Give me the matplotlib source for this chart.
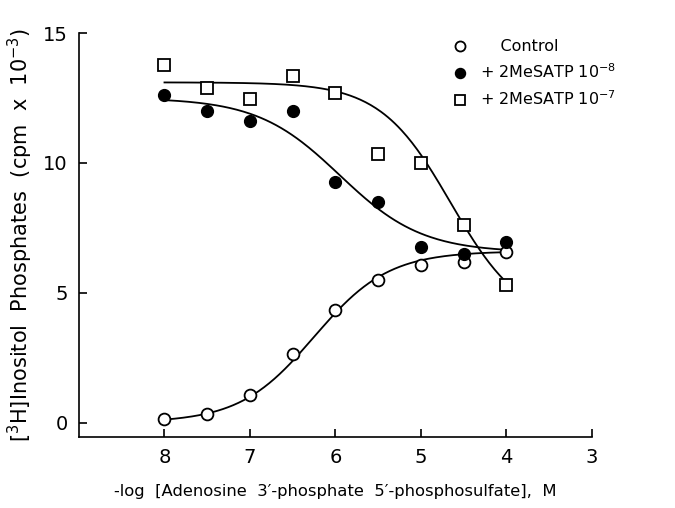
import numpy as np
import matplotlib
matplotlib.use("Agg")
import matplotlib.pyplot as plt

# -log[A3P5PS], M
x_conc = [8, 7.5, 7, 6.5, 6, 5.5, 5, 4.5, 4]
control = [0.15, 0.35, 1.05, 2.65, 4.35, 5.5, 6.05, 6.2, 6.55]
mesatp_8 = [12.6, 12.0, 11.6, 12.0, 9.25, 8.5, 6.75, 6.5, 6.95]
mesatp_7 = [13.75, 12.9, 12.45, 13.35, 12.7, 10.35, 10.0, 7.6, 5.3]

# fitted logistic parameters: (bottom, top, midpoint -log, hill, direction)
fit_control = (0.0, 6.6, 6.25, 1.0, +1)
fit_m8 = (6.55, 12.5, 5.95, 0.9, -1)
fit_m7 = (3.8, 13.1, 4.65, 1.05, -1)

labels = ["Control", "+ 2MeSATP $10^{-8}$", "+ 2MeSATP $10^{-7}$"]

def logistic(xs, p):
    bottom, top, mid, h, d = p
    logc = -xs
    if d > 0:
        return bottom + (top - bottom) / (1 + 10 ** ((-mid - logc) * h))
    return bottom + (top - bottom) / (1 + 10 ** ((logc + mid) * h))

fig = plt.figure(figsize=(6.75, 5.08), dpi=100)
ax = fig.add_axes([0.117, 0.140, 0.760, 0.795])

xs = np.linspace(min(x_conc), max(x_conc), 200)
lw = 1.3
ax.plot(xs, logistic(xs, fit_control), color="black", lw=lw)
ax.plot(xs, logistic(xs, fit_m8), color="black", lw=lw)
ax.plot(xs, logistic(xs, fit_m7), color="black", lw=lw)

ms = 8.5
h1, = ax.plot(x_conc, control, "o", ms=ms, mfc="white", mec="black", mew=1.3, ls="none")
h2, = ax.plot(x_conc, mesatp_8, "o", ms=ms, mfc="black", mec="black", ls="none")
h3, = ax.plot(x_conc, mesatp_7, "s", ms=ms, mfc="white", mec="black", mew=1.3, ls="none")

ax.set_xlim(9, 3)
ax.set_ylim(-0.55, 15)
ax.set_xticks([8, 7, 6, 5, 4, 3])
ax.set_yticks([0, 5, 10, 15])
ax.spines["top"].set_visible(False)
ax.spines["right"].set_visible(False)
ax.spines["left"].set_bounds(-0.55, 15)
for s in ("left", "bottom"):
    ax.spines[s].set_linewidth(1.2)
ax.tick_params(direction="in", length=6, width=1.2, labelsize=14, pad=8)

ax.set_xlabel("-log  [Adenosine  3′-phosphate  5′-phosphosulfate],  M", fontsize=11.8, labelpad=12)
ax.set_ylabel("[$^{3}$H]Inositol  Phosphates  (cpm  x  10$^{-3}$)", fontsize=15, labelpad=6)

leg = ax.legend([h1, h2, h3], ["    " + labels[0], labels[1], labels[2]],
                loc="upper left", bbox_to_anchor=(0.700, 1.02), frameon=False,
                fontsize=11.5, handletextpad=0.7, labelspacing=0.52, markerscale=0.85,
                handlelength=1.0)

fig.savefig("out.png", dpi=100)
